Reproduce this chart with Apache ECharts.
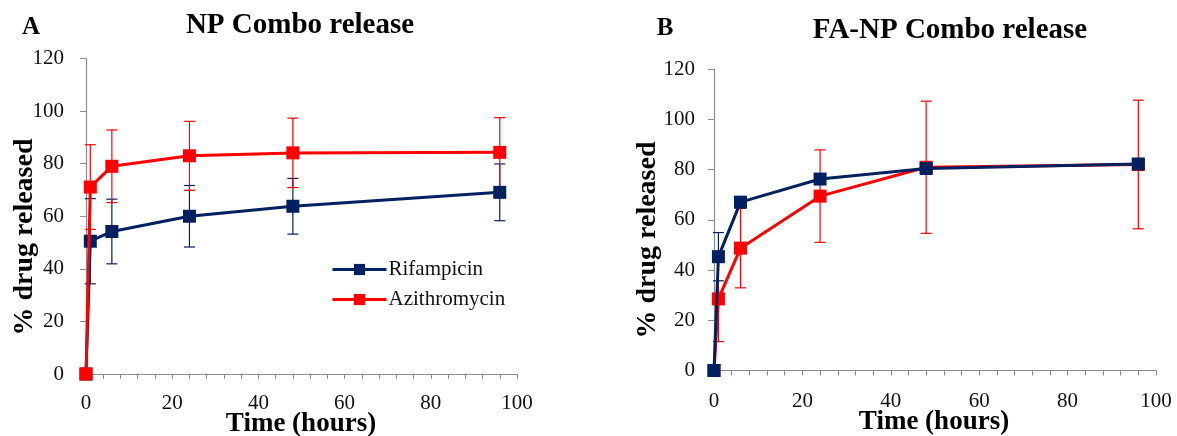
<!DOCTYPE html>
<html>
<head>
<meta charset="utf-8">
<script src="https://cdn.jsdelivr.net/npm/echarts@6/dist/echarts.min.js"></script>
<style>
  html, body { margin: 0; padding: 0; background: #fff; }
  #chart { width: 1177px; height: 436px; }
</style>
</head>
<body>
<div id="chart"></div>
<script>
// sampling times (hours)
const hours = [0, 1, 6, 24, 48, 96];

// panel A: NP Combo release
const rifA = [0, 50.5, 54.2, 60.0, 63.8, 69.1];
const rifAErr = [0, 16.2, 12.3, 11.7, 10.6, 10.8];
const aziA = [0, 71.1, 79.0, 83.0, 84.1, 84.3];
const aziAErr = [0, 16.1, 13.8, 13.1, 13.2, 13.2];

// panel B: FA-NP Combo release
const rifB = [0, 45.3, 67.0, 76.2, 80.4, 82.2];
const rifBErr = [0, 9.6, 1.5, 1.5, 1.0, 1.0];
const aziB = [0, 28.5, 48.7, 69.4, 80.9, 82.0];
const aziBErr = [0, 17.0, 15.8, 18.4, 26.3, 25.6];

const yTicks = { min: 0, max: 120, step: 20 };
const xTicks = { min: 0, max: 100, step: 20 };

const NAVY = '#002060';
const RED = '#ff0000';
const SERIF = '"Liberation Serif", "Times New Roman", serif';
const AXIS_GRAY = '#8c8c8c';

const pairs = (vals) => hours.map((h, i) => [h, vals[i]]);
const errData = (vals, errs) => hours.map((h, i) => [h, vals[i] - errs[i], vals[i] + errs[i]]);

function errorSeries(name, vals, errs, color, gi) {
  return {
    name: name,
    type: 'custom',
    xAxisIndex: gi,
    yAxisIndex: gi,
    z: 1,
    silent: true,
    data: errData(vals, errs).filter(d => d[2] > d[1]),
    renderItem: function (params, api) {
      const lo = api.coord([api.value(0), api.value(1)]);
      const hi = api.coord([api.value(0), api.value(2)]);
      const w = 5.5;
      const st = { stroke: color, lineWidth: 1.2 };
      return {
        type: 'group',
        children: [
          { type: 'line', shape: { x1: hi[0], y1: hi[1], x2: lo[0], y2: lo[1] }, style: st },
          { type: 'line', shape: { x1: hi[0] - w, y1: hi[1], x2: hi[0] + w, y2: hi[1] }, style: st },
          { type: 'line', shape: { x1: lo[0] - w, y1: lo[1], x2: lo[0] + w, y2: lo[1] }, style: st }
        ]
      };
    }
  };
}

function lineSeries(name, vals, color, gi, z) {
  return {
    name: name,
    type: 'line',
    xAxisIndex: gi,
    yAxisIndex: gi,
    z: z,
    data: pairs(vals),
    symbol: 'rect',
    symbolSize: 13,
    color: color,
    lineStyle: { color: color, width: 3 },
    itemStyle: { color: color },
    emphasis: { disabled: true },
    animation: false
  };
}

function xAxis(gi, margin) {
  return {
    type: 'value',
    gridIndex: gi,
    min: xTicks.min, max: xTicks.max, interval: xTicks.step,
    axisLine: { lineStyle: { color: AXIS_GRAY, width: 1.2 } },
    axisTick: { length: 5, lineStyle: { color: AXIS_GRAY } },
    minorTick: { show: true, splitNumber: 5, length: 5, lineStyle: { color: AXIS_GRAY } },
    axisLabel: { fontFamily: SERIF, fontSize: 21, color: '#111', margin: margin },
    splitLine: { show: false }
  };
}

function yAxis(gi, margin) {
  return {
    type: 'value',
    gridIndex: gi,
    min: yTicks.min, max: yTicks.max, interval: yTicks.step,
    axisLine: { show: true, lineStyle: { color: AXIS_GRAY, width: 1.2 } },
    axisTick: { show: true, length: 6, lineStyle: { color: AXIS_GRAY } },
    axisLabel: { fontFamily: SERIF, fontSize: 21, color: '#111', margin: margin },
    splitLine: { show: false }
  };
}

function txt(str, x, y, size, rot) {
  return {
    type: 'text',
    x: x, y: y,
    rotation: rot || 0,
    style: {
      text: str,
      font: 'bold ' + size + 'px ' + SERIF,
      fill: '#000',
      textAlign: 'center',
      textVerticalAlign: 'middle'
    }
  };
}

const chart = echarts.init(document.getElementById('chart'));
chart.setOption({
  backgroundColor: '#fff',
  animation: false,
  grid: [
    { left: 86, top: 58.5, width: 431, height: 315.5 },
    { left: 714, top: 69, width: 442, height: 301.5 }
  ],
  xAxis: [xAxis(0, 19), xAxis(1, 20)],
  yAxis: [yAxis(0, 22), yAxis(1, 19)],
  legend: {
    data: ['Rifampicin', 'Azithromycin'],
    orient: 'vertical',
    left: 326,
    top: 254,
    itemWidth: 54,
    itemHeight: 14,
    itemGap: 9,
    selectedMode: false,
    lineStyle: { width: 3 },
    textStyle: { fontFamily: SERIF, fontSize: 21, color: '#111', padding: [0, 0, 0, -3] }
  },
  graphic: [
    txt('A', 31, 28, 25),
    txt('NP Combo release', 300, 26, 29),
    txt('% drug released', 25, 237, 28, Math.PI / 2),
    txt('Time (hours)', 301, 424, 27),
    txt('B', 665, 29, 25),
    txt('FA-NP Combo release', 950, 31, 29),
    txt('% drug released', 648, 240, 28, Math.PI / 2),
    txt('Time (hours)', 934, 422, 27)
  ],
  series: [
    errorSeries('rifA err', rifA, rifAErr, NAVY, 0),
    errorSeries('aziA err', aziA, aziAErr, RED, 0),
    lineSeries('Rifampicin', rifA, NAVY, 0, 2),
    lineSeries('Azithromycin', aziA, RED, 0, 3),
    errorSeries('aziB err', aziB, aziBErr, RED, 1),
    errorSeries('rifB err', rifB, rifBErr, NAVY, 1),
    lineSeries('Azithromycin B', aziB, RED, 1, 2),
    lineSeries('Rifampicin B', rifB, NAVY, 1, 3)
  ]
});
</script>
</body>
</html>
